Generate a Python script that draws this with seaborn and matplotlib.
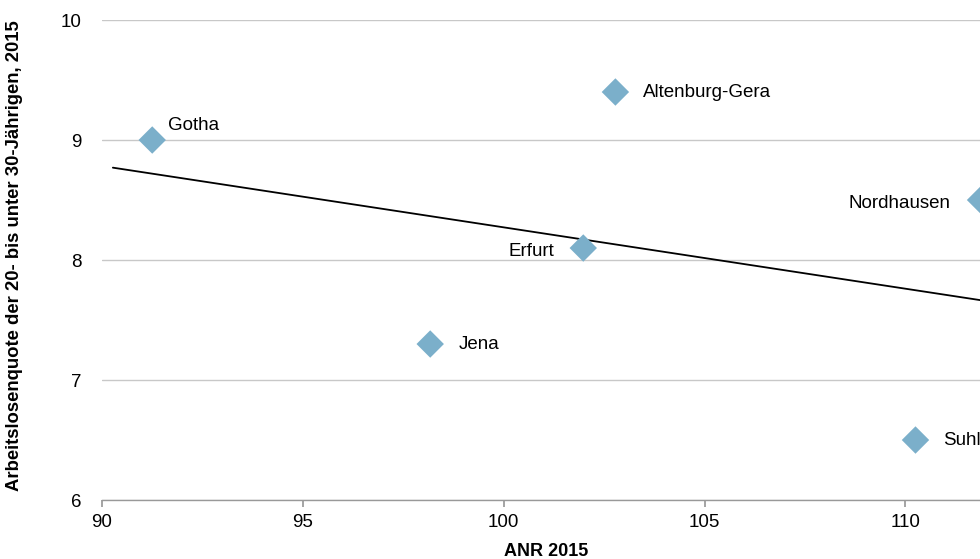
import numpy as np
import pandas as pd
import matplotlib
matplotlib.use("Agg")
import matplotlib.pyplot as plt
import seaborn as sns

# data
regions = ["Gotha", "Altenburg-Gera", "Nordhausen", "Erfurt", "Jena", "Suhl"]
anr_2015 = [91.25, 102.78, 111.87, 101.98, 98.17, 110.25]
quote_2015 = [9.0, 9.4, 8.5, 8.1, 7.3, 6.5]
label_side = ["right_up", "right", "left", "left_down", "right", "right"]

df = pd.DataFrame({"Region": regions, "ANR": anr_2015, "Quote": quote_2015})

sns.set_theme(style="white")
plt.rcParams["font.family"] = ["Liberation Sans", "DejaVu Sans"]
plt.rcParams["text.color"] = "black"
plt.rcParams["xtick.color"] = "black"
plt.rcParams["ytick.color"] = "black"
plt.rcParams["axes.labelcolor"] = "black"

fig = plt.figure(figsize=(9.8, 5.59), dpi=100)
ax = fig.add_axes([0.1041, 0.1055, 0.8959 + 0.01, 0.8587])

# linear trend
slope, intercept = np.polyfit(df["ANR"], df["Quote"], 1)
trend_x = np.array([90.27, 113.0])
ax.plot(trend_x, intercept + slope * trend_x, color="black", lw=1.3, zorder=2)

sns.scatterplot(data=df, x="ANR", y="Quote", marker="D", s=195, color="#7BAFCA",
                edgecolor="none", ax=ax, zorder=3)

offsets = {"right_up": (16, 15, "left"), "right": (28, 0, "left"),
           "left": (-30, -3, "right"), "left_down": (-29, -3, "right")}
for name, xv, yv, side in zip(regions, anr_2015, quote_2015, label_side):
    dx, dy, ha = offsets[side]
    ax.annotate(name, (xv, yv), xytext=(dx, dy), textcoords="offset pixels",
                ha=ha, va="center", fontsize=13.5, color="black")

ax.set_xlim(90, 112.1)
ax.set_ylim(6, 10)
ax.set_xticks([90, 95, 100, 105, 110])
ax.set_yticks([6, 7, 8, 9, 10])
ax.yaxis.grid(True, color="#C8C8C8", lw=1)
ax.xaxis.grid(False)
for s in ["top", "right", "left"]:
    ax.spines[s].set_visible(False)
ax.spines["bottom"].set_color("#999999")
ax.spines["bottom"].set_linewidth(1)
ax.tick_params(axis="x", bottom=True, length=5, color="#999999", labelsize=13.5, pad=5)
ax.tick_params(axis="y", left=False, labelsize=13.5, pad=9)

ax.set_xlabel("ANR 2015", fontsize=13, fontweight="bold", labelpad=9)
ax.set_ylabel("Arbeitslosenquote der 20- bis unter 30-Jährigen, 2015",
              fontsize=13.3, fontweight="bold", labelpad=24)
ax.yaxis.set_label_coords(-0.0895, 0.51)

fig.savefig("out.png", dpi=100)
